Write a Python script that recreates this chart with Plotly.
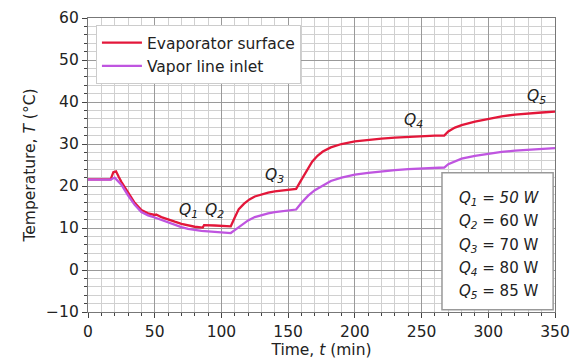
import plotly.graph_objects as go

# Evaporator surface
t_evap = [0, 17, 19, 21, 23, 25, 30, 35, 40, 45, 50, 51, 55, 60, 65, 70, 75, 80, 86, 87, 95, 107,
          110, 113, 117, 121, 125, 130, 135, 140, 145, 150, 156, 160, 164, 168, 172, 176, 182, 190,
          200, 210, 220, 230, 240, 250, 260, 267, 270, 275, 280, 290, 300, 310, 320, 330, 340, 350]
T_evap = [21.6, 21.6, 23.3, 23.5, 22.2, 21.0, 18.5, 16.0, 14.3, 13.5, 13.1, 13.2, 12.6, 12.0, 11.5,
          11.0, 10.6, 10.3, 10.1, 10.7, 10.6, 10.4, 12.5, 14.5, 15.8, 16.8, 17.5, 18.0, 18.4, 18.7,
          18.9, 19.1, 19.3, 21.5, 23.8, 25.8, 27.2, 28.2, 29.2, 30.0, 30.6, 31.0, 31.3, 31.5, 31.7,
          31.9, 32.0, 32.0, 33.0, 33.9, 34.5, 35.3, 36.0, 36.6, 37.0, 37.3, 37.5, 37.7]

# Vapor line inlet
t_vap = [0, 17, 20, 22, 25, 30, 35, 40, 45, 50, 55, 60, 65, 70, 75, 80, 85, 90, 95, 100, 107,
         110, 115, 120, 125, 130, 135, 140, 145, 150, 156, 160, 165, 170, 176, 182, 190, 200, 210,
         220, 230, 240, 250, 260, 267, 270, 275, 280, 290, 300, 310, 320, 330, 340, 350]
T_vap = [21.5, 21.5, 22.0, 21.3, 20.3, 17.8, 15.5, 13.8, 13.0, 12.5, 11.9, 11.3, 10.7, 10.2, 9.8,
         9.5, 9.3, 9.2, 9.1, 9.0, 8.8, 9.5, 10.7, 11.8, 12.6, 13.1, 13.5, 13.8, 14.0, 14.2, 14.4,
         16.0, 17.7, 19.0, 20.2, 21.2, 22.0, 22.7, 23.1, 23.5, 23.8, 24.0, 24.2, 24.3, 24.4, 25.2,
         25.9, 26.5, 27.2, 27.7, 28.1, 28.4, 28.6, 28.8, 29.0]

# Heat load labels on the curves
q_names = ["1", "2", "3", "4", "5"]
q_t = [75, 95, 140, 244, 336]
q_T = [14.0, 14.0, 22.3, 35.4, 41.3]
q_watts = ["50 W", "60 W", "70 W", "80 W", "85 W"]

x_ticks = [0, 50, 100, 150, 200, 250, 300, 350]
y_ticks = [-10, 0, 10, 20, 30, 40, 50, 60]

FONT = "DejaVu Sans"
FS = 15.5
RED = "#e3173a"
PURPLE = "#bf55e0"

fig = go.Figure()
fig.add_trace(go.Scatter(x=t_evap, y=T_evap, mode="lines", name="Evaporator surface",
                         line=dict(color=RED, width=2.3)))
fig.add_trace(go.Scatter(x=t_vap, y=T_vap, mode="lines", name="Vapor line inlet",
                         line=dict(color=PURPLE, width=2.3)))

for n, x, y in zip(q_names, q_t, q_T):
    fig.add_annotation(x=x, y=y, xref="x", yref="y", showarrow=False,
                       text=f"<i>Q<sub>{n}</sub></i>",
                       font=dict(family=FONT, size=FS, color="#222"))

# info box
fig.add_shape(type="rect", xref="paper", yref="paper", x0=0.758, x1=0.996, y0=0.008, y1=0.474,
              line=dict(color="#999", width=1.5), fillcolor="white", layer="above")
box_y = [0.386, 0.307, 0.227, 0.148, 0.069]
for i, (n, w) in enumerate(zip(q_names, q_watts)):
    wtxt = f"<i>{w}</i>" if i == 0 else w
    fig.add_annotation(x=0.790, y=box_y[i], xref="paper", yref="paper", xanchor="left",
                       yanchor="middle", showarrow=False,
                       text=f"<i>Q<sub>{n}</sub></i> = {wtxt}",
                       font=dict(family=FONT, size=15, color="#222"))

axis_common = dict(
    showline=True, linecolor="#777", linewidth=1.2, mirror=True,
    showgrid=True, gridcolor="#9a9a9a", gridwidth=1,
    ticks="outside", ticklen=5, tickcolor="#444",
    tickfont=dict(family=FONT, size=FS, color="#222"),
    zeroline=False, automargin=False,
)
fig.update_xaxes(range=[0, 350], tickvals=x_ticks,
                 minor=dict(dtick=10, showgrid=True, gridcolor="#d0d0d0", ticks="outside",
                            ticklen=3, tickcolor="#444"),
                 title=dict(text="Time, <i>t</i> (min)", font=dict(family=FONT, size=FS, color="#222"),
                            standoff=2),
                 **axis_common)
fig.update_yaxes(range=[-10, 60], tickvals=y_ticks,
                 minor=dict(dtick=2, showgrid=True, gridcolor="#d0d0d0", ticks="outside",
                            ticklen=3, tickcolor="#444"),
                 title=dict(text="Temperature, <i>T</i> (°C)", font=dict(family=FONT, size=FS, color="#222"),
                            standoff=6),
                 **axis_common)

fig.update_layout(
    width=578, height=363,
    margin=dict(l=88, r=23, t=18, b=51),
    paper_bgcolor="white", plot_bgcolor="white",
    font=dict(family=FONT, color="#222"),
    legend=dict(x=0.017, y=0.976, xanchor="left", yanchor="top",
                bgcolor="white", bordercolor="#cccccc", borderwidth=1,
                font=dict(family=FONT, size=FS, color="#222"),
                itemwidth=40, tracegroupgap=0),
    showlegend=True,
)

fig.write_html("out.html", config={"displayModeBar": False},
               post_script="document.body.style.margin='0';")
